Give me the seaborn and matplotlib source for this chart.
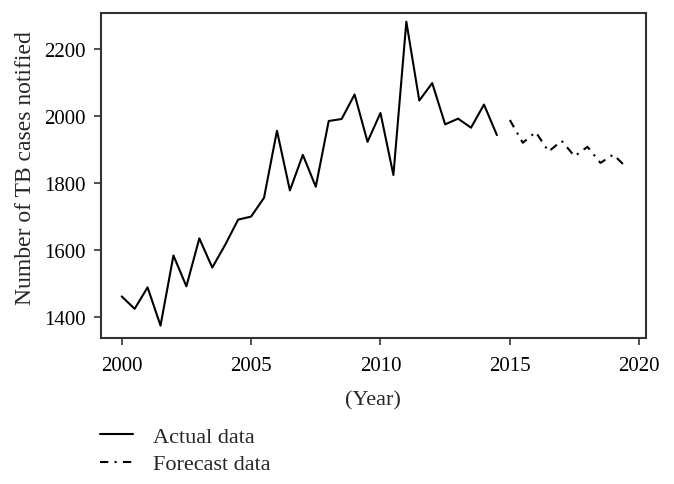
import numpy as np
import pandas as pd
import matplotlib
matplotlib.use("Agg")
import matplotlib.pyplot as plt
import seaborn as sns

# Half-yearly periods
actual_time = [2000.0, 2000.5, 2001.0, 2001.5, 2002.0, 2002.5, 2003.0, 2003.5, 2004.0, 2004.5,
               2005.0, 2005.5, 2006.0, 2006.5, 2007.0, 2007.5, 2008.0, 2008.5, 2009.0, 2009.5,
               2010.0, 2010.5, 2011.0, 2011.5, 2012.0, 2012.5, 2013.0, 2013.5, 2014.0, 2014.5]
actual_cases = [1462, 1425, 1489, 1375, 1584, 1492, 1635, 1548, 1616, 1691,
                1700, 1756, 1956, 1778, 1884, 1789, 1985, 1991, 2064, 1923,
                2009, 1824, 2281, 2046, 2098, 1975, 1992, 1965, 2034, 1943]

forecast_time = [2015.0, 2015.5, 2016.0, 2016.5, 2017.0, 2017.5, 2018.0, 2018.5, 2019.0, 2019.5]
forecast_cases = [1988, 1920, 1952, 1894, 1926, 1880, 1908, 1860, 1885, 1847]

x_ticks = [2000, 2005, 2010, 2015, 2020]
y_ticks = [1400, 1600, 1800, 2000, 2200]

sns.set_style("ticks")
plt.rcParams['font.family'] = ['Liberation Serif', 'DejaVu Serif']

df_a = pd.DataFrame({"Year": actual_time, "Cases": actual_cases})
df_f = pd.DataFrame({"Year": forecast_time, "Cases": forecast_cases})

fig = plt.figure(figsize=(6.74, 4.85), dpi=100)
ax = fig.add_axes([101/674, 1 - 339/485, (645.7 - 101)/674, (339 - 14)/485])

sns.lineplot(data=df_a, x="Year", y="Cases", ax=ax, color="black", linewidth=1.5,
             label="Actual data")
sns.lineplot(data=df_f, x="Year", y="Cases", ax=ax, color="black", linewidth=1.5,
             linestyle=(0, (4, 3, 1, 3)), label="Forecast data")

ax.set_xlim(1999.2, 2020.25)
ax.set_ylim(1338, 2307)
ax.set_xticks(x_ticks)
ax.set_yticks(y_ticks)
ax.tick_params(axis="both", direction="out", length=5, width=1.2, labelsize=15,
               colors="#333333", labelcolor="black")
ax.tick_params(axis="x", pad=8)
ax.tick_params(axis="y", pad=6)
ax.set_xlabel("(Year)", fontsize=16, labelpad=11)
ax.set_ylabel("Number of TB cases notified", fontsize=17)
ax.yaxis.set_label_coords(-0.12, 0.525)
for s in ax.spines.values():
    s.set_visible(True)
    s.set_color("#333333")
    s.set_linewidth(1.5)

handles, labels = ax.get_legend_handles_labels()
ax.get_legend().remove()
fig.legend(handles, labels, loc="upper left", bbox_to_anchor=(100/674, 1 - 427/485),
           frameon=False, fontsize=16, handlelength=1.5, handletextpad=0.9,
           borderpad=0, borderaxespad=0, labelspacing=0.33)

fig.savefig("out.png", dpi=100)
